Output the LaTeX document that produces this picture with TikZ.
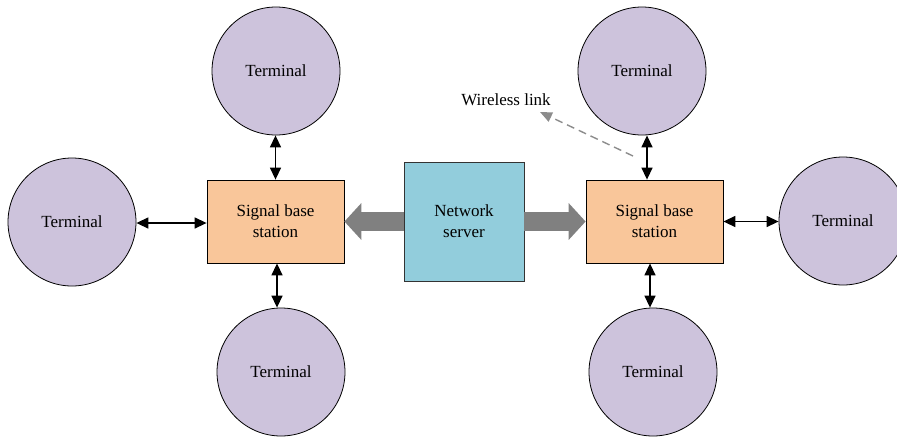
\documentclass[tikz,border=0pt]{standalone}
\usepackage{fontspec}
\newfontfamily\tnr{Liberation Serif}
\usetikzlibrary{arrows.meta}
\definecolor{termfill}{HTML}{CDC3DC}
\definecolor{bsfill}{HTML}{F9C69A}
\definecolor{srvfill}{HTML}{92CDDC}
\definecolor{biggray}{HTML}{808080}
\definecolor{dashgray}{HTML}{8C8C8C}
\tikzset{
  txt/.style={font=\tnr\fontsize{17}{21}\selectfont},
  term/.style={txt,circle,draw=black,line width=0.8pt,fill=termfill,minimum size=128pt,inner sep=0pt},
  bsbox/.style={txt,rectangle,draw=black,line width=0.8pt,fill=bsfill,minimum width=137pt,minimum height=83pt,
    align=center},
  srvbox/.style={txt,rectangle,draw=black!80,line width=0.8pt,fill=srvfill,minimum width=120pt,minimum height=119pt,
    align=center},
  dbl/.style={line width=1.4pt,{Triangle[length=12pt,width=11pt]}-{Triangle[length=12pt,width=11pt]}},
  bigarrow/.style={line width=19pt,draw=biggray,-{Triangle[length=17pt,width=36pt]}},
  wlink/.style={line width=1.4pt,draw=dashgray,dash pattern=on 8pt off 5pt,-{Triangle[length=12pt,width=10pt]}},
  wlabel/.style={txt,inner sep=0pt}
}
\begin{document}
\begin{tikzpicture}[x=1pt,y=-1pt]
\useasboundingbox (0,0) rectangle (897,437);
% nodes
\node[bsbox] (lbs) at (275.5,221.5) {Signal base\\station};
\node[bsbox] (rbs) at (654.5,221.5) {Signal base\\station};
\node[srvbox] (srv) at (464,221.5) {Network\\server};
\node[term] (tl) at (276,71) {Terminal};
\node[term] (l) at (72,222) {Terminal};
\node[term] (bl) at (281,372) {Terminal};
\node[term] (tr) at (642,71) {Terminal};
\node[term] (r) at (843,221) {Terminal};
\node[term] (br) at (653,372) {Terminal};
\node[wlabel] (wl) at (506,100) {Wireless link};
\coordinate (wstart) at (633,156);
\coordinate (wend) at (540,112);
% big arrows
\draw[bigarrow] (srv.west) -- (lbs.east);
\draw[bigarrow] (srv.east) -- (rbs.east -| rbs.west);
% small double arrows
\draw[dbl] (lbs.north) -- (lbs.north |- tl.south);
\draw[dbl] ([xshift=1.5pt]lbs.south) -- ([xshift=1.5pt]lbs.south |- bl.north);
\draw[dbl] ([yshift=-1.5pt]lbs.west) -- ([yshift=-1.5pt]lbs.west -| l.east);
\draw[dbl] ([xshift=-7.5pt]rbs.north) -- ([xshift=-7.5pt]rbs.north |- tr.south);
\draw[dbl] ([xshift=-4.5pt]rbs.south) -- ([xshift=-4.5pt]rbs.south |- br.north);
\draw[dbl] (rbs.east) -- (rbs.east -| r.west);
% wireless link
\draw[wlink] (wstart) -- (wend);
\end{tikzpicture}
\end{document}
